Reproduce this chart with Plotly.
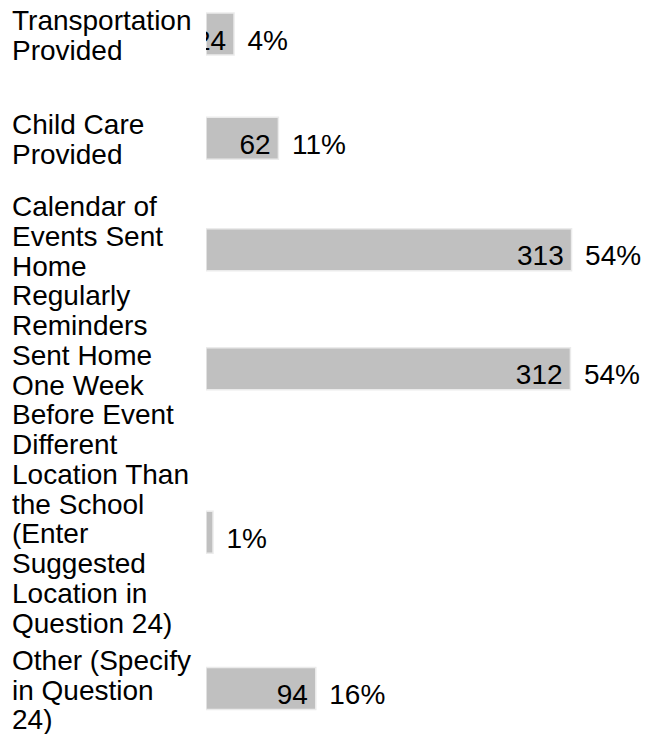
import plotly.graph_objects as go

# ---- data ----
categories = [
    "Transportation<br>Provided",
    "Child Care<br>Provided",
    "Calendar of<br>Events Sent<br>Home<br>Regularly",
    "Reminders<br>Sent Home<br>One Week<br>Before Event",
    "Different<br>Location Than<br>the School<br>(Enter<br>Suggested<br>Location in<br>Question 24)",
    "Other (Specify<br>in Question<br>24)",
]
counts = [24, 62, 313, 312, 6, 94]
percent_labels = ["4%", "11%", "54%", "54%", "1%", "16%"]

# ---- layout helpers (band height grows with the number of label lines) ----
FONT = "Liberation Sans, Arial, sans-serif"
FS = 28
MIN_BAND_LINES = 3.5
label_lines = [c.split("<br>") for c in categories]
bands = [max(len(l), MIN_BAND_LINES) for l in label_lines]
centers = []
top = 0.0
for b in bands:
    centers.append(top + b / 2)
    top += b

W, H = 649, 734
ML = 198
PX_PER_UNIT_X = 1.168
PX_PER_LINE = 29.75
plot_w = W - ML
x_max = plot_w / PX_PER_UNIT_X
y_top = centers[0] - 26 / PX_PER_LINE
y_bottom = y_top + H / PX_PER_LINE

TEXT_DROP = 8.5 / PX_PER_LINE    # value labels sit a little below bar centre
LABEL_DROP = 1.5 / PX_PER_LINE
text_y = [c + TEXT_DROP for c in centers]

fig = go.Figure()
fig.add_trace(go.Bar(
    x=counts, y=centers, orientation="h", width=42 / PX_PER_LINE,
    marker=dict(color="#c0c0c0", line=dict(color="#ebebeb", width=1.5)),
    hoverinfo="skip",
))
fig.add_trace(go.Scatter(
    x=counts, y=text_y, mode="markers+text",
    text=[str(c) for c in counts], textposition="middle left",
    marker=dict(size=11, color="rgba(0,0,0,0)"),
    textfont=dict(size=FS, color="#000000", family=FONT),
    cliponaxis=True, hoverinfo="skip",
))
fig.add_trace(go.Scatter(
    x=counts, y=text_y, mode="markers+text",
    text=percent_labels, textposition="middle right",
    marker=dict(size=20, color="rgba(0,0,0,0)"),
    textfont=dict(size=FS, color="#000000", family=FONT),
    cliponaxis=False, hoverinfo="skip",
))

annotations = []
for lines, c in zip(label_lines, centers):
    n = len(lines)
    for k, line in enumerate(lines):
        annotations.append(dict(
            text=line, xref="paper", yref="y",
            x=(4 - 2 - ML) / plot_w, y=c + LABEL_DROP + (k - (n - 1) / 2),
            xanchor="left", yanchor="middle", showarrow=False,
            font=dict(size=FS, color="#000000", family=FONT),
        ))

fig.update_layout(
    width=W, height=H,
    margin=dict(l=ML, r=0, t=0, b=0),
    paper_bgcolor="white", plot_bgcolor="white",
    showlegend=False,
    xaxis=dict(range=[0, x_max], visible=False, fixedrange=True),
    yaxis=dict(range=[y_bottom, y_top], visible=False, fixedrange=True),
    annotations=annotations,
)

fig.write_html("out.html")
